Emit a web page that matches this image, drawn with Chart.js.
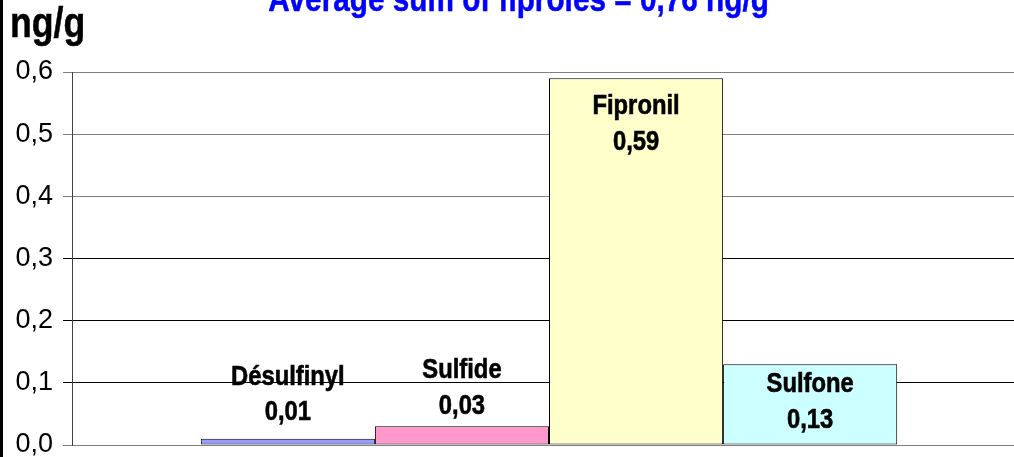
<!DOCTYPE html>
<html>
<head>
<meta charset="utf-8">
<script src="https://cdn.jsdelivr.net/npm/chart.js@4"></script>
<style>
  html, body { margin: 0; padding: 0; background: #fff; overflow: hidden; width: 1014px; height: 457px; }
  #wrap { position: absolute; left: 0; top: 0; width: 1030px; height: 457px; }
  #edge { position: absolute; left: 0; top: 0; width: 3px; height: 457px; background: #000; z-index: 2; }
</style>
</head>
<body>
<div id="wrap"><canvas id="c" width="1030" height="457"></canvas></div>
<div id="edge"></div>
<script>
// ---- data ----
const chartTitle = 'Average sum of fiproles = 0,76 ng/g';
const unitLabel = 'ng/g';
const categories = [''];
const seriesNames = ['Désulfinyl', 'Sulfide', 'Fipronil', 'Sulfone'];
const seriesValues = [0.01, 0.03, 0.59, 0.13];
const yTickLabels = ['0,0', '0,1', '0,2', '0,3', '0,4', '0,5', '0,6'];

// ---- styles ----
const seriesColors = ['#9999ff', '#ff99cc', '#ffffcc', '#ccffff'];
const labelDy = [-54, -48, 36, 28]; // baseline of first label line relative to bar top
const FONT = '"Liberation Sans", Arial, sans-serif';
const SX = 0.85; // horizontal text compression seen in the reference

function fmt(v) { return v.toFixed(2).replace('.', ','); }

function scaledText(ctx, text, x, y, align, font, color, stroke) {
  ctx.save();
  ctx.font = font;
  ctx.fillStyle = color;
  ctx.textBaseline = 'alphabetic';
  ctx.textAlign = align;
  ctx.translate(x, y);
  ctx.scale(SX, 1);
  ctx.fillText(text, 0, 0);
  if (stroke) {
    ctx.strokeStyle = color;
    ctx.lineWidth = stroke;
    ctx.strokeText(text, 0, 0);
  }
  ctx.restore();
}

const textPlugin = {
  id: 'textPlugin',
  afterDatasetsDraw(chart) {
    const ctx = chart.ctx;
    chart.data.datasets.forEach((ds, i) => {
      const meta = chart.getDatasetMeta(i);
      meta.data.forEach((bar, j) => {
        const y1 = bar.y + ds.labelDy;
        const f = 'bold 28px ' + FONT;
        scaledText(ctx, ds.label, bar.x, y1, 'center', f, '#000', 0.6);
        scaledText(ctx, fmt(ds.data[j]), bar.x, y1 + 35.5, 'center', f, '#000', 0.6);
      });
    });
  },
  afterDraw(chart) {
    const ctx = chart.ctx;
    scaledText(ctx, chartTitle, 518.5, 11, 'center', 'bold 35px ' + FONT, '#0000ff', 0.5);
    scaledText(ctx, unitLabel, 10, 37, 'left', 'bold 42px ' + FONT, '#000', 0.5);
  }
};

const greyTicks = [0, 4, 5, 6];

new Chart(document.getElementById('c'), {
  type: 'bar',
  data: {
    labels: categories,
    datasets: seriesNames.map((name, i) => ({
      label: name,
      data: [seriesValues[i]],
      backgroundColor: seriesColors[i],
      borderColor: '#000',
      borderWidth: 1,
      borderSkipped: false,
      labelDy: labelDy[i],
      categoryPercentage: 0.73,
      barPercentage: 1.0
    }))
  },
  options: {
    responsive: false,
    devicePixelRatio: 1,
    animation: false,
    layout: { padding: { top: 72, right: 4, bottom: 12, left: 0 } },
    plugins: {
      legend: { display: false },
      title: { display: false },
      tooltip: { enabled: false }
    },
    scales: {
      x: { display: false },
      y: {
        min: 0,
        max: 0.6,
        ticks: {
          stepSize: 0.1,
          padding: 10,
          color: '#000',
          font: { family: FONT, size: 27 },
          callback: (v, idx) => yTickLabels[Math.round(v * 10)]
        },
        grid: {
          color: (c) => greyTicks.includes(Math.round((c.tick ? c.tick.value : 0) * 10)) ? '#7f7f7f' : '#000',
          lineWidth: 1,
          tickLength: 9,
          drawTicks: true
        },
        border: { display: true, color: '#404040', width: 1 },
        afterFit(scale) {
          scale.width = 72;
          scale.paddingTop = 0;
          scale.paddingBottom = 0;
        }
      }
    }
  },
  plugins: [textPlugin]
});
</script>
</body>
</html>
